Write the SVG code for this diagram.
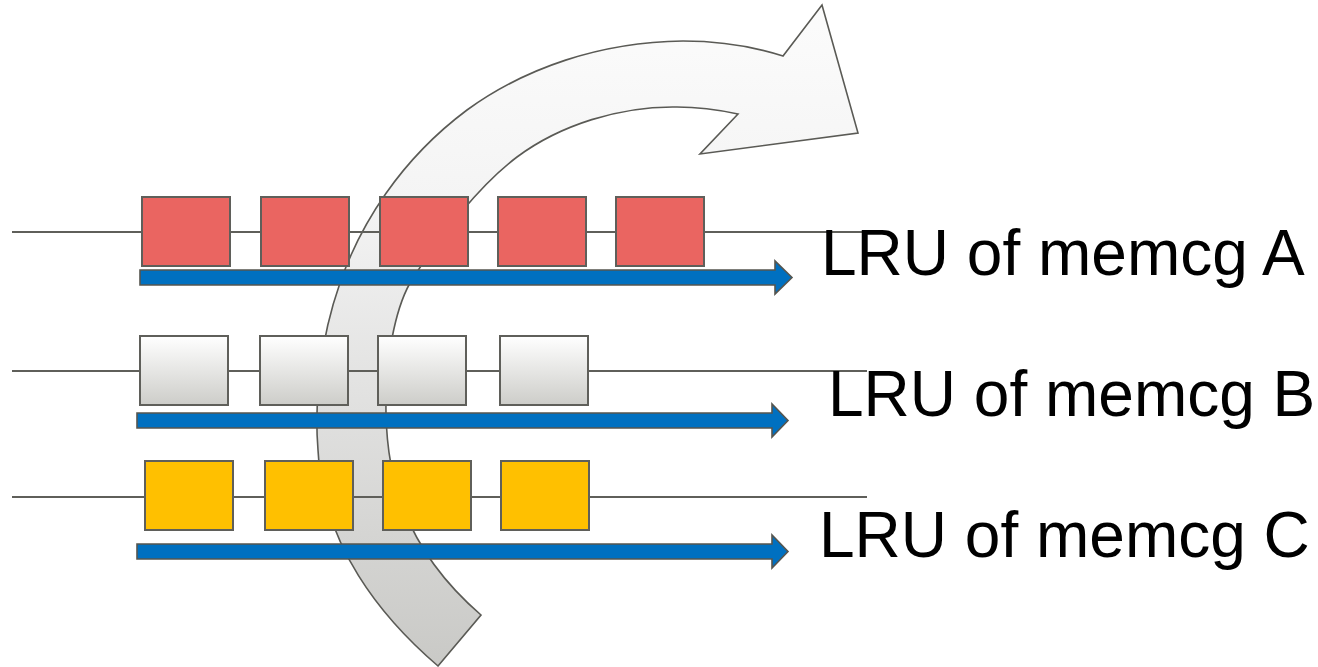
<svg xmlns="http://www.w3.org/2000/svg" width="1318" height="667" viewBox="0 0 1318 667">
  <defs>
    <linearGradient id="bendFill" gradientUnits="userSpaceOnUse" x1="0" y1="0" x2="0" y2="667">
      <stop offset="0" stop-color="#fcfcfc"/>
      <stop offset="0.3" stop-color="#f4f4f4"/>
      <stop offset="0.6" stop-color="#e1e1e0"/>
      <stop offset="1" stop-color="#c9c9c6"/>
    </linearGradient>
    <linearGradient id="pageFill" x1="0" y1="0" x2="0" y2="1">
      <stop offset="0" stop-color="#ffffff"/>
      <stop offset="1" stop-color="#cdcdc9"/>
    </linearGradient>
  </defs>
  <style>
    .bend { fill: url(#bendFill); stroke: #5a5a55; stroke-width: 1.6; stroke-linejoin: miter; }
    .list { stroke: #5f5f5a; stroke-width: 2; fill: none; }
    .page { stroke: #5f5f5a; stroke-width: 2; }
    .red { fill: #ea6561; }
    .grey { fill: url(#pageFill); }
    .gold { fill: #ffc000; }
    .scan { fill: #0070c0; stroke: #55554f; stroke-width: 1.6; }
    .label { font-family: "Liberation Sans", Arial, sans-serif; font-size: 64px; fill: #000000; }
  </style>

  <rect width="1318" height="667" fill="#ffffff"/>

  <!-- big curved arrow behind the lists -->
  <g id="rotation-arrow">
    <path class="bend" d="M438,666
      C382,618 322,545 318,450
      C314,400 320,340 340,283
      C360,225 400,160 467,110
      C525,68 600,42 683,41
      C720,41 755,47 783,56
      L822,5 L858,133 L700,154 L738,114
      C715,109 695,107 677,107
      C620,106 560,125 517,157
      C480,185 440,235 410,283
      C395,310 385,360 386,413
      C387,470 400,545 481,615 Z"/>
  </g>

  <!-- list lines -->
  <g id="connectors">
    <line class="list" x1="12" y1="232" x2="867" y2="232"/>
    <line class="list" x1="12" y1="371" x2="867" y2="371"/>
    <line class="list" x1="12" y1="497" x2="867" y2="497"/>
  </g>

  <!-- memcg A pages -->
  <g id="memcg-a">
    <rect class="page red" x="142" y="197" width="88" height="69"/>
    <rect class="page red" x="261" y="197" width="88" height="69"/>
    <rect class="page red" x="380" y="197" width="88" height="69"/>
    <rect class="page red" x="498" y="197" width="88" height="69"/>
    <rect class="page red" x="616" y="197" width="88" height="69"/>
    <path class="scan" d="M140,270 H775 V261 L792,277.5 L775,294 V285 H140 Z"/>
    <text class="label" x="821" y="275">LRU of memcg A</text>
  </g>

  <!-- memcg B pages -->
  <g id="memcg-b">
    <rect class="page grey" x="140" y="336" width="88" height="69"/>
    <rect class="page grey" x="260" y="336" width="88" height="69"/>
    <rect class="page grey" x="378" y="336" width="88" height="69"/>
    <rect class="page grey" x="500" y="336" width="88" height="69"/>
    <path class="scan" d="M137,413 H772 V404 L788,420.5 L772,437 V428 H137 Z"/>
    <text class="label" x="828" y="416">LRU of memcg B</text>
  </g>

  <!-- memcg C pages -->
  <g id="memcg-c">
    <rect class="page gold" x="145" y="461" width="88" height="69"/>
    <rect class="page gold" x="265" y="461" width="88" height="69"/>
    <rect class="page gold" x="383" y="461" width="88" height="69"/>
    <rect class="page gold" x="501" y="461" width="88" height="69"/>
    <path class="scan" d="M137,544 H772 V535 L788,551.5 L772,568 V559 H137 Z"/>
    <text class="label" x="819" y="557">LRU of memcg C</text>
  </g>
</svg>
